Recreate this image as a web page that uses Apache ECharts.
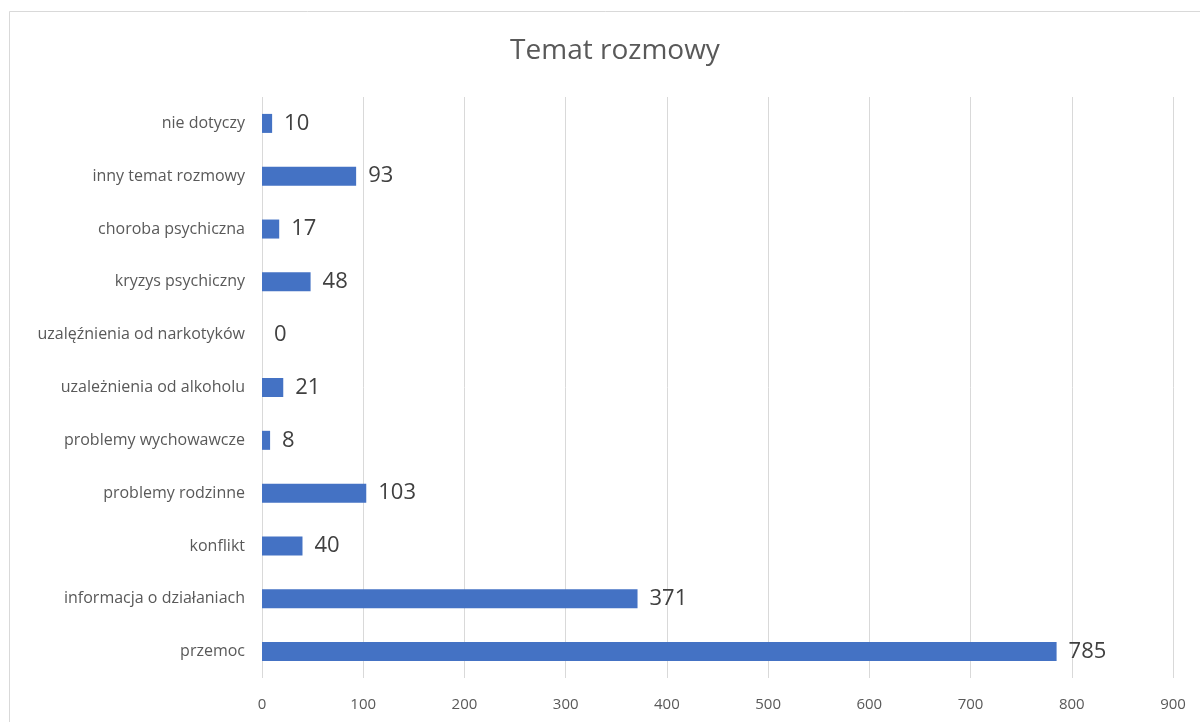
<!DOCTYPE html>
<html><head><meta charset="utf-8">
<script src="https://cdn.jsdelivr.net/npm/echarts@6/dist/echarts.min.js"></script>
<style>html,body{margin:0;padding:0;background:#fff}#c{width:1200px;height:722px}</style>
</head><body><div id="c"></div>
<script>
const categories = ["przemoc","informacja o działaniach","konflikt","problemy rodzinne","problemy wychowawcze","uzależnienia od alkoholu","uzalęźnienia od narkotyków","kryzys psychiczny","choroba psychiczna","inny temat rozmowy","nie dotyczy"];
const values = [785,371,40,103,8,21,0,48,17,93,10];
const xTicks = [0,100,200,300,400,500,600,700,800,900];
const FONT = '"Open Sans", "Noto Sans", sans-serif';
const chart = echarts.init(document.getElementById('c'), null, {renderer:'canvas'});
chart.setOption({
  animation:false,
  backgroundColor:'#fff',
  title:{text:'Temat rozmowy',left:610,top:32,textAlign:'center',
    textStyle:{fontFamily:FONT,fontSize:28,fontWeight:'normal',color:'#595959'}},
  graphic:[{type:'rect',shape:{x:9.5,y:11.5,width:1200,height:720},
    style:{fill:'none',stroke:'#d9d9d9',lineWidth:1},silent:true}],
  grid:{left:262,right:27,top:97,bottom:44,containLabel:false},
  xAxis:{type:'value',min:xTicks[0],max:xTicks[xTicks.length-1],interval:100,
    axisLine:{show:false},axisTick:{show:false},
    splitLine:{show:true,lineStyle:{color:'#d9d9d9',width:1}},
    axisLabel:{fontFamily:FONT,fontSize:15,color:'#595959',margin:19}},
  yAxis:{type:'category',data:categories,
    axisLine:{show:false},axisTick:{show:false},
    axisLabel:{fontFamily:FONT,fontSize:16,color:'#595959',margin:17}},
  series:[{type:'bar',data:values,barCategoryGap:'64%',
    itemStyle:{color:'#4472c4'},
    label:{show:true,position:'right',distance:12,fontFamily:FONT,fontSize:22,color:'#404040'}}]
});
</script></body></html>
